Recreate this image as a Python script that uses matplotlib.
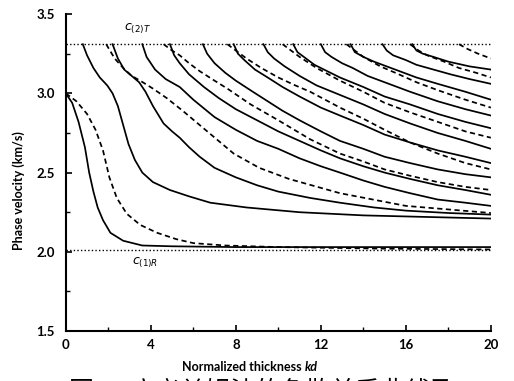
import matplotlib.pyplot as plt

# cut-off velocities
c2T = 3.31
c1R = 2.01

# fundamental modes (solid / dashed) starting from 3.0
f_x = [0, 0.3, 0.6, 0.9, 1.1, 1.3, 1.5, 1.75, 2.1, 2.7, 3.6, 5, 8, 12, 16, 20]
f_y = [3.0, 2.94, 2.82, 2.66, 2.50, 2.38, 2.28, 2.20, 2.12, 2.07, 2.04, 2.035, 2.03, 2.03, 2.03, 2.03]
d0_x = [0, 0.5, 1.0, 1.4, 1.75, 2.05, 2.4, 2.87, 3.5, 4.3, 5.2, 6.0, 7.5, 10, 15, 20]
d0_y = [3.0, 2.95, 2.87, 2.77, 2.64, 2.47, 2.34, 2.24, 2.17, 2.12, 2.08, 2.055, 2.04, 2.03, 2.02, 2.015]

# higher solid modes
s1_x = [0.8, 1.0, 1.3, 1.6, 1.95, 2.2, 2.45, 2.7, 2.95, 3.25, 3.6, 4.1, 4.9, 5.8, 6.8, 8.5, 11, 14, 17, 20]
s1_y = [3.31, 3.24, 3.16, 3.10, 3.05, 3.0, 2.92, 2.80, 2.68, 2.58, 2.50, 2.44, 2.39, 2.35, 2.31, 2.28, 2.25, 2.23, 2.22, 2.21]
s2_x = [2.2, 2.45, 2.75, 3.1, 3.45, 3.75, 4.1, 4.6, 5.0, 5.36, 5.8, 6.3, 7.0, 8.0, 9, 10, 11.5, 12.9, 14.5, 16, 18, 20]
s2_y = [3.31, 3.22, 3.15, 3.11, 3.07, 3.01, 2.92, 2.81, 2.76, 2.72, 2.66, 2.60, 2.53, 2.47, 2.42, 2.38, 2.34, 2.31, 2.28, 2.26, 2.245, 2.235]
s3_x = [3.6, 3.8, 4.2, 4.7, 5.36, 6.0, 7.0, 8.0, 9.0, 10, 11, 12, 12.9, 14, 15, 16.2, 17.5, 18.8, 20]
s3_y = [3.31, 3.23, 3.15, 3.09, 3.04, 2.96, 2.85, 2.77, 2.70, 2.65, 2.59, 2.54, 2.50, 2.45, 2.41, 2.37, 2.33, 2.31, 2.29]
s4_x = [4.9, 5.1, 5.36, 5.8, 6.5, 7.2, 8, 9, 10, 11, 12, 12.9, 14, 15, 16.2, 17.5, 18.8, 20]
s4_y = [3.31, 3.24, 3.19, 3.12, 3.04, 2.97, 2.90, 2.83, 2.76, 2.70, 2.64, 2.59, 2.54, 2.50, 2.46, 2.42, 2.39, 2.36]
s5_x = [6.45, 6.65, 7.0, 7.5, 8.0, 8.8, 9.5, 10.2, 11, 12, 12.9, 14, 15, 16.2, 17.5, 18.8, 20]
s5_y = [3.31, 3.25, 3.19, 3.13, 3.08, 3.01, 2.95, 2.89, 2.83, 2.76, 2.70, 2.65, 2.60, 2.56, 2.52, 2.49, 2.47]
s6_x = [7.9, 8.1, 8.4, 8.9, 9.5, 10.2, 11, 12, 12.9, 14, 15, 16.2, 17.5, 18.8, 20]
s6_y = [3.31, 3.25, 3.21, 3.15, 3.10, 3.04, 2.98, 2.91, 2.86, 2.80, 2.74, 2.69, 2.64, 2.60, 2.56]
s7_x = [9.3, 9.5, 9.8, 10.3, 11, 11.8, 12.9, 14, 15, 16.2, 17.5, 18.8, 20]
s7_y = [3.31, 3.26, 3.22, 3.17, 3.11, 3.05, 2.99, 2.93, 2.87, 2.81, 2.75, 2.70, 2.65]
s8_x = [10.7, 10.9, 11.2, 11.7, 12.3, 12.9, 14, 15, 16.2, 17.5, 18.8, 20]
s8_y = [3.31, 3.26, 3.23, 3.18, 3.14, 3.10, 3.04, 2.98, 2.93, 2.87, 2.82, 2.78]
s9_x = [12.0, 12.2, 12.5, 13, 13.5, 14.2, 15, 16.2, 17.5, 18.8, 20]
s9_y = [3.31, 3.26, 3.23, 3.19, 3.16, 3.11, 3.07, 3.01, 2.95, 2.90, 2.86]
s10_x = [13.4, 13.6, 14.0, 14.5, 15.5, 16.5, 17.5, 18.8, 20]
s10_y = [3.31, 3.26, 3.23, 3.20, 3.15, 3.10, 3.06, 3.01, 2.96]
s11_x = [14.9, 15.1, 15.4, 16.0, 16.5, 17.3, 18.1, 19, 20]
s11_y = [3.31, 3.27, 3.24, 3.21, 3.18, 3.15, 3.12, 3.09, 3.06]
s12_x = [16.3, 16.5, 16.8, 17.3, 18, 19, 20]
s12_y = [3.31, 3.27, 3.25, 3.23, 3.20, 3.17, 3.15]

# higher dashed modes
d1_x = [1.9, 2.3, 2.7, 3.1, 3.5, 4.1, 4.75, 5.5, 6.3, 7.1, 7.9, 9.1, 10.5, 12.9, 16, 20]
d1_y = [3.31, 3.22, 3.16, 3.11, 3.08, 3.03, 2.97, 2.89, 2.80, 2.71, 2.62, 2.53, 2.46, 2.37, 2.29, 2.245]
d2_x = [4.6, 5.0, 5.36, 5.8, 6.3, 7.0, 7.6, 8.7, 10, 11.5, 12.9, 14, 15, 16.2, 17.5, 18.8, 20]
d2_y = [3.31, 3.27, 3.24, 3.19, 3.14, 3.08, 3.03, 2.93, 2.83, 2.71, 2.62, 2.57, 2.52, 2.48, 2.44, 2.41, 2.39]
d3_x = [7.6, 8.0, 8.5, 9.2, 10, 10.8, 11.5, 12.2, 12.9, 14, 15, 16.2, 17.5, 18.8, 20]
d3_y = [3.31, 3.27, 3.22, 3.16, 3.10, 3.05, 3.01, 2.96, 2.91, 2.84, 2.77, 2.69, 2.62, 2.56, 2.52]
d4_x = [10.2, 10.6, 11, 11.8, 12.9, 14, 15, 16.2, 17.5, 18.8, 20]
d4_y = [3.31, 3.27, 3.23, 3.16, 3.08, 3.01, 2.94, 2.88, 2.82, 2.76, 2.72]
d5_x = [13.2, 13.6, 14, 14.8, 15.5, 16.5, 17.5, 18.8, 20]
d5_y = [3.31, 3.27, 3.23, 3.17, 3.13, 3.07, 3.02, 2.96, 2.91]
d6_x = [16.2, 16.6, 17, 17.8, 18.5, 19.3, 20]
d6_y = [3.31, 3.27, 3.24, 3.20, 3.16, 3.13, 3.10]
d7_x = [18.5, 18.9, 19.4, 20]
d7_y = [3.31, 3.28, 3.25, 3.22]

solidas = [(f_x, f_y), (s1_x, s1_y), (s2_x, s2_y), (s3_x, s3_y), (s4_x, s4_y),
           (s5_x, s5_y), (s6_x, s6_y), (s7_x, s7_y), (s8_x, s8_y), (s9_x, s9_y),
           (s10_x, s10_y), (s11_x, s11_y), (s12_x, s12_y)]
discontinuas = [(d0_x, d0_y), (d1_x, d1_y), (d2_x, d2_y), (d3_x, d3_y),
                (d4_x, d4_y), (d5_x, d5_y), (d6_x, d6_y), (d7_x, d7_y)]

fuente = ['Liberation Sans Narrow', 'Lato']

fig = plt.figure(figsize=(5.14, 3.81), dpi=100)
ax = fig.add_axes([0.128, 0.131, 0.827, 0.832])

# lineas de referencia
ax.plot([0, 20], [c2T, c2T], color='black', lw=1.0, linestyle=(0, (1, 1.6)))
ax.plot([0, 20], [c1R, c1R], color='black', lw=1.0, linestyle=(0, (1, 1.6)))

for xs, ys in solidas:
    ax.plot(xs, ys, color='black', lw=1.25, solid_joinstyle='round')
for xs, ys in discontinuas:
    ax.plot(xs, ys, color='black', lw=1.25, linestyle=(0, (3, 2)))

ax.text(2.75, 3.41, r'$c_{(2)T}$', fontsize=9, ha='left', va='center')
ax.text(3.1, 1.93, r'$c_{(1)R}$', fontsize=9, ha='left', va='center')

ax.set_xlim(0, 20)
ax.set_ylim(1.5, 3.5)
ax.set_xticks([0, 4, 8, 12, 16, 20])
ax.set_xticks([2, 6, 10, 14, 18], minor=True)
ax.set_yticks([1.5, 2.0, 2.5, 3.0, 3.5])
ax.set_yticks([1.75, 2.25, 2.75, 3.25], minor=True)
ax.set_yticklabels(['1.5', '2.0', '2.5', '3.0', '3.5'])

for s in ['top', 'right']:
    ax.spines[s].set_visible(False)
for s in ['left', 'bottom']:
    ax.spines[s].set_linewidth(1.5)

ax.tick_params(which='major', direction='in', length=4, width=1.2, pad=6)
ax.tick_params(which='minor', direction='in', length=3, width=1.0)
ax.tick_params(axis='y', pad=8)
for lab in ax.get_xticklabels() + ax.get_yticklabels():
    lab.set_fontfamily('Lato')
    lab.set_fontweight('bold')
    lab.set_fontsize(9.5)

fig.text(0.036, 0.50, 'Phase velocity (km/s)', rotation=90, ha='center', va='center',
         fontsize=9, fontweight='bold', family=fuente)
fig.text(0.592, 0.037, 'Normalized thickness ', ha='right', va='center',
         fontsize=9, fontweight='bold', family=fuente)
fig.text(0.592, 0.037, 'kd', ha='left', va='center', fontsize=9,
         fontweight='bold', fontstyle='italic', family=fuente)

# pie de figura (cortado por el borde inferior, como en el original)
fig.text(0.135, 0.006, '图 3   广义兰姆波的色散关系曲线及', ha='left', va='top',
         fontsize=18, family=['Noto Sans CJK SC', 'DejaVu Sans'])

fig.savefig('out.png', dpi=100)
